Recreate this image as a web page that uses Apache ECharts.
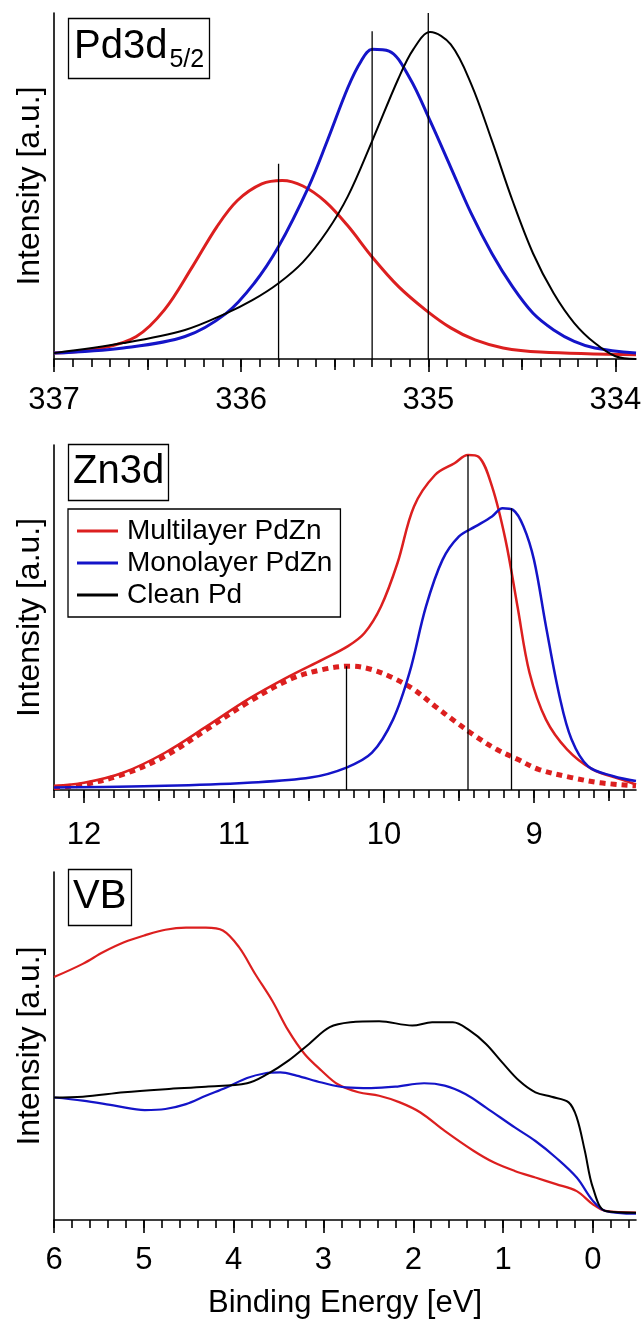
<!DOCTYPE html>
<html>
<head>
<meta charset="utf-8">
<script src="https://cdn.jsdelivr.net/npm/echarts@6/dist/echarts.min.js"></script>
<style>
  html, body { margin: 0; padding: 0; background: #fff; }
  #chart { width: 644px; height: 1325px; }
</style>
</head>
<body>
<div id="chart"></div>
<script>
// ---- Pd3d 5/2 panel (binding energy in eV, intensity in % of axis height)
const pdTicks = [337, 336, 335, 334]
const pdMultiE = [337, 336.74, 336.56, 336.41, 336.26, 336.13, 336.02, 335.89, 335.78, 335.67, 335.55, 335.43, 335.30, 335.16, 335.01, 334.88, 334.75, 334.60, 334.40, 333.89]
const pdMultiI = [1.7, 3.2, 6.5, 14.2, 26.7, 38.2, 45.8, 50.6, 51.6, 50, 45.5, 38.5, 29.5, 21, 14, 9, 5.5, 3.2, 2, 1.2]
const pdMonoE = [337, 336.63, 336.30, 336.08, 335.93, 335.80, 335.64, 335.54, 335.43, 335.36, 335.30, 335.21, 335.10, 334.99, 334.88, 334.77, 334.66, 334.55, 334.44, 334.33, 334.22, 334.11, 333.89]
const pdMonoI = [1.7, 3.2, 6.5, 13.2, 21.9, 32.5, 49.7, 63, 78.4, 86, 89.5, 89, 81.3, 68.8, 55.4, 42, 30.5, 20.9, 13.2, 8.4, 5.1, 3.2, 1.7]
const pdCleanE = [337, 336.63, 336.30, 336.08, 335.94, 335.80, 335.67, 335.54, 335.43, 335.30, 335.16, 335.08, 334.99, 334.88, 334.77, 334.66, 334.55, 334.44, 334.33, 334.22, 334.11, 334.0, 333.89]
const pdCleanI = [1.7, 4.6, 8.4, 13.2, 17, 21.9, 28, 37, 47, 63, 81, 89.5, 94.5, 90.9, 79.4, 63.1, 45.8, 30.5, 19, 10.4, 4.6, 0.8, 0]
const pdPeakE = [335.8, 335.3, 335.0]
const pdPeakTop = [56.4, 94.7, 100]

// ---- Zn3d panel
const znTicks = [12, 11, 10, 9]
const znMultiE = [12.2, 12.0, 11.74, 11.46, 11.18, 10.91, 10.63, 10.41, 10.24, 10.13, 10.02, 9.91, 9.80, 9.66, 9.53, 9.44, 9.37, 9.28, 9.19, 9.11, 9.03, 8.92, 8.78, 8.61, 8.42, 8.32]
const znMultiI = [1.2, 2.1, 5, 10.8, 18.5, 26.2, 33, 37.8, 41.7, 45.5, 53.2, 65.8, 82.2, 91.3, 94.7, 97.1, 96.6, 88, 72.5, 53.2, 34, 20.4, 11.8, 6, 3.1, 1.6]
const znMonoE = [12.2, 11.46, 10.91, 10.49, 10.25, 10.08, 9.94, 9.83, 9.72, 9.61, 9.50, 9.39, 9.28, 9.21, 9.14, 9.07, 9.0, 8.92, 8.83, 8.75, 8.64, 8.47, 8.32]
const znMonoI = [0.7, 1.2, 2.1, 3.6, 6.5, 10.8, 20.4, 34, 53.2, 66.7, 73.5, 76.4, 79.3, 81.7, 81.2, 76.4, 66.7, 47.4, 27.2, 14.7, 6.9, 4, 2.6]
const znFitE = [12.2, 12.0, 11.74, 11.46, 11.18, 10.91, 10.63, 10.41, 10.22, 10.08, 9.94, 9.80, 9.66, 9.53, 9.39, 9.25, 9.11, 8.97, 8.75, 8.56, 8.32]
const znFitI = [0.7, 1.6, 4.5, 9.8, 17.6, 25.3, 32, 34.9, 35.9, 34.9, 32.5, 29.1, 24.3, 20, 15.6, 11.8, 8.9, 6, 3.6, 2.1, 1.2]
const znPeakE = [10.25, 9.44, 9.15]
const znPeakTop = [35.9, 97.1, 81.7]

// ---- valence band panel
const vbTicks = [6, 5, 4, 3, 2, 1, 0]
const vbMultiE = [6.0, 5.68, 5.45, 5.22, 4.99, 4.76, 4.53, 4.31, 4.12, 3.94, 3.76, 3.57, 3.39, 3.21, 3.02, 2.84, 2.61, 2.38, 2.15, 1.92, 1.65, 1.33, 1.10, 0.87, 0.64, 0.41, 0.18, 0.0, -0.14, -0.48]
const vbMultiI = [69.8, 73.6, 77, 79.8, 81.8, 83.4, 84, 84, 83.2, 78.4, 70.7, 63, 54.4, 47.7, 42.9, 39, 36.7, 35.7, 33.8, 30.9, 25.6, 19.9, 16.5, 14.1, 12.2, 10.3, 8.3, 4.5, 2.6, 2.1]
const vbMonoE = [6.0, 5.68, 5.31, 4.99, 4.76, 4.53, 4.31, 4.08, 3.85, 3.66, 3.48, 3.30, 3.02, 2.75, 2.47, 2.20, 1.88, 1.65, 1.42, 1.19, 0.87, 0.64, 0.41, 0.18, 0.0, -0.14, -0.48]
const vbMonoI = [35.2, 34.3, 32.8, 31.6, 31.9, 33.3, 35.7, 38.1, 40.8, 42.1, 42.4, 41.5, 39.5, 38.1, 37.9, 38.3, 39.3, 38.6, 36.2, 32.3, 26.6, 22.7, 17.9, 12.2, 5.5, 2.6, 1.8]
const vbCleanE = [6.0, 5.68, 5.22, 4.76, 4.31, 3.85, 3.62, 3.39, 3.16, 2.93, 2.70, 2.38, 2.01, 1.79, 1.56, 1.37, 1.19, 1.01, 0.82, 0.64, 0.46, 0.27, 0.18, 0.09, 0.0, -0.14, -0.48]
const vbCleanI = [35.2, 35.4, 36.7, 37.6, 38.3, 39.3, 42, 45.8, 50.6, 55.4, 56.8, 57.1, 55.9, 56.8, 56.8, 54.4, 50.6, 45.3, 40, 36.7, 35.4, 33.8, 29.5, 19.9, 9.3, 2.6, 2.1]

const RED = '#dc1f1f'
const BLUE = '#1414c8'
const FONT = 'Liberation Sans, Arial, sans-serif'

function pairs(xs, ys) {
  return xs.map((x, i) => [x, ys[i]])
}

function steps(from, to, step) {
  const out = []
  const n = Math.round((to - from) / step)
  for (let i = 0; i <= n; i++) out.push(+(from + i * step).toFixed(3))
  return out
}

// three overlaid axes per panel: major (with labels), half and minor ticks
function panelAxes(grid, min, max, major, half, minor, margin, extra) {
  const base = {
    type: 'value', gridIndex: grid, min: min, max: max, inverse: true,
    splitLine: {show: false}, position: 'bottom'
  }
  return [
    Object.assign({}, base, {
      axisLine: {show: true, onZero: false, lineStyle: {color: '#000', width: 1.6}},
      axisTick: {show: true, customValues: major, length: 13, lineStyle: {color: '#000', width: 1.6}},
      axisLabel: {show: true, customValues: major, margin: margin, color: '#000', fontSize: 31, fontFamily: FONT}
    }, extra || {}),
    Object.assign({}, base, {
      axisLine: {show: false, onZero: false},
      axisTick: {show: true, customValues: half, length: 11, lineStyle: {color: '#000', width: 1.6}},
      axisLabel: {show: false}
    }),
    Object.assign({}, base, {
      axisLine: {show: false, onZero: false},
      axisTick: {show: true, customValues: minor, length: 8, lineStyle: {color: '#000', width: 1.6}},
      axisLabel: {show: false}
    })
  ]
}

function yAxisFor(grid) {
  return {
    type: 'value', gridIndex: grid, min: 0, max: 100,
    axisLine: {show: true, onZero: false, lineStyle: {color: '#000', width: 1.6}},
    axisTick: {show: false}, axisLabel: {show: false}, splitLine: {show: false},
    name: 'Intensity [a.u.]', nameLocation: 'middle', nameGap: 8,
    nameTextStyle: {fontSize: 32, color: '#000', fontFamily: FONT}
  }
}

function curve(name, grid, xs, ys, color, width, dash) {
  return {
    name: name, type: 'line', xAxisIndex: grid * 3, yAxisIndex: grid,
    data: pairs(xs, ys), showSymbol: false, symbol: 'none', smooth: 0.35,
    color: color, z: 3,
    lineStyle: {color: color, width: width, type: dash || 'solid', cap: 'butt'}
  }
}

function peakLines(grid, es, tops) {
  return es.map((e, i) => ({
    name: 'peak', type: 'line', xAxisIndex: grid * 3, yAxisIndex: grid,
    data: [[e, 0], [e, tops[i]]], showSymbol: false, symbol: 'none',
    color: '#000', z: 4, lineStyle: {color: '#000', width: 1.3}
  }))
}

function boxTitle(text, top, padding, rich) {
  return {
    text: text, left: 68, top: top,
    borderColor: '#000', borderWidth: 1.3, padding: padding,
    textStyle: {fontSize: 40, fontWeight: 'normal', color: '#000', fontFamily: FONT, rich: rich}
  }
}

const chartDom = document.getElementById('chart')
const myChart = echarts.init(chartDom)

const option = {
  animation: false,
  backgroundColor: '#fff',
  title: [
    boxTitle('{a|Pd3d}{b|5/2}', 12, [9, 6, 6, 6], {
      a: {fontSize: 40, color: '#000', fontFamily: FONT, lineHeight: 52, verticalAlign: 'middle'},
      b: {fontSize: 25, color: '#000', fontFamily: FONT, lineHeight: 24, verticalAlign: 'bottom', padding: [0, 0, 0, 2]}
    }),
    boxTitle('Zn3d', 444, [8, 5, 9, 5]),
    boxTitle('VB', 869, [8, 5, 9, 5])
  ],
  legend: {
    left: 68, top: 509, orient: 'vertical',
    borderColor: '#000', borderWidth: 1.3, padding: [8, 8, 8, 9],
    itemGap: 4, itemWidth: 41, itemHeight: 3,
    textStyle: {fontSize: 28, color: '#000', fontFamily: FONT, padding: [0, 0, 0, 4]},
    data: [
      {name: 'Multilayer PdZn', icon: 'rect'},
      {name: 'Monolayer PdZn', icon: 'rect'},
      {name: 'Clean Pd', icon: 'rect'}
    ]
  },
  grid: [
    {left: 54, right: 8, top: 13, height: 346, outerBoundsMode: 'none'},
    {left: 54, right: 8, top: 445, height: 345, outerBoundsMode: 'none'},
    {left: 54, right: 8, top: 872, height: 348, outerBoundsMode: 'none'}
  ],
  xAxis: [
    ...panelAxes(0, 333.89, 337, pdTicks, [336.5, 335.5, 334.5], steps(334, 337, 0.1), 26),
    ...panelAxes(1, 8.32, 12.2, znTicks, [11.5, 10.5, 9.5, 8.5], steps(8.4, 12.2, 0.1), 30),
    ...panelAxes(2, -0.48, 6, vbTicks, [], steps(-0.4, 6, 0.2), 25, {
      name: 'Binding Energy [eV]', nameLocation: 'middle', nameGap: 68,
      nameTextStyle: {fontSize: 31, color: '#000', fontFamily: FONT}
    })
  ],
  yAxis: [yAxisFor(0), yAxisFor(1), yAxisFor(2)],
  series: [
    curve('Multilayer PdZn', 0, pdMultiE, pdMultiI, RED, 3),
    curve('Monolayer PdZn', 0, pdMonoE, pdMonoI, BLUE, 3),
    curve('Clean Pd', 0, pdCleanE, pdCleanI, '#000', 2),
    ...peakLines(0, pdPeakE, pdPeakTop),

    curve('Multilayer fit', 1, znFitE, znFitI, RED, 5, [6, 5]),
    curve('Multilayer PdZn', 1, znMultiE, znMultiI, RED, 2.5),
    curve('Monolayer PdZn', 1, znMonoE, znMonoI, BLUE, 2.5),
    ...peakLines(1, znPeakE, znPeakTop),

    curve('Multilayer PdZn', 2, vbMultiE, vbMultiI, RED, 2.2),
    curve('Monolayer PdZn', 2, vbMonoE, vbMonoI, BLUE, 2.2),
    curve('Clean Pd', 2, vbCleanE, vbCleanI, '#000', 2)
  ]
}

option && myChart.setOption(option)
</script>
</body>
</html>
